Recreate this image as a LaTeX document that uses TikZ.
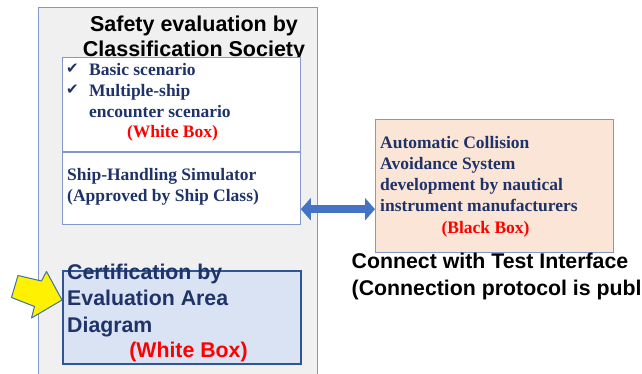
\documentclass[tikz,border=0pt]{standalone}
\usepackage{fontspec}
\setmainfont{Liberation Serif}
\newfontfamily\headfont{Liberation Sans}
\newfontfamily\symfont{DejaVu Sans}
\usetikzlibrary{arrows.meta, positioning, calc}
\definecolor{panelgray}{HTML}{F0F0F0}
\definecolor{paneledge}{HTML}{8497C8}
\definecolor{navy}{HTML}{1F3368}
\definecolor{certfill}{HTML}{DAE3F3}
\definecolor{certedge}{HTML}{2F5597}
\definecolor{acasfill}{HTML}{FBE5D6}
\definecolor{linkblue}{HTML}{4472C4}
\definecolor{pointeredge}{HTML}{41719C}

\begin{document}
\begin{tikzpicture}[
    x=1pt, y=-1pt,
    box/.style={rectangle, draw=paneledge, line width=0.8pt, inner sep=0pt, anchor=north west},
    sanshead/.style={font=\headfont\bfseries\fontsize{21.3}{26.5}\selectfont, align=left, inner sep=0pt},
    serifbody/.style={font=\bfseries\fontsize{17.5}{21}\selectfont, text=navy, align=left, inner sep=0pt},
    boxlabel/.style={font=\bfseries\fontsize{17.5}{21}\selectfont, text=red, inner sep=0pt, anchor=base},
    tick/.style={font=\symfont\fontsize{15}{15}\selectfont, text=navy, inner sep=0pt, anchor=base west},
    link/.style={line width=8pt, linkblue, {Triangle[width=22pt,length=10pt]}-{Triangle[width=22pt,length=10pt]}},
    pointer/.style={fill=yellow, draw=pointeredge, line width=1pt, line join=round},
]
  \useasboundingbox (0,0) rectangle (642,374);
  \clip (0,0) rectangle (642,374);

  % class society panel
  \node[box, fill=panelgray, minimum width=279pt, minimum height=380pt] (panel) at (38,7) {};
  \node[sanshead, font=\headfont\bfseries\fontsize{21.5}{25}\selectfont, align=center, anchor=north] (title) at (194,15.5) {Safety evaluation by\\Classification Society};

  % scenario / simulator boxes
  \node[box, fill=white, minimum width=238pt, minimum height=94pt] (scen) at (62,57) {};
  \node[box, fill=white, minimum width=238pt, minimum height=72pt] (sim) at (scen.south west) {};

  \node[tick] (tick1) at (66,74) {✔};
  \node[tick] (tick2) at (66,95) {✔};
  \node[serifbody, anchor=north west] (scenlist) at (89,63.5) {Basic scenario\\Multiple-ship\\encounter scenario};
  \node[boxlabel] (scenlabel) at (172.5,137.5) {(White Box)};
  \node[serifbody, anchor=north west] (simtext) at (67,168) {Ship-Handling Simulator\\(Approved by Ship Class)};

  % certification box
  \node[box, draw=certedge, line width=1.8pt, fill=certfill, minimum width=238pt, minimum height=93pt] (cert) at (62,270) {};
  \node[sanshead, text=navy, anchor=north west] (certtext) at (67,263.5) {Certification by\\Evaluation Area\\Diagram};
  \node[sanshead, text=red, anchor=base] (certlabel) at (188.5,357) {(White Box)};

  % yellow pointer
  \draw[pointer] (18,275.5) -- (41.5,281) -- (46.5,271.5) -- (62,300)
    -- (31.5,318) -- (34.5,306.5) -- (11.5,297.5) -- cycle;

  % collision avoidance box
  \node[box, fill=acasfill, minimum width=238pt, minimum height=133pt] (acas) at (375,119) {};
  \node[serifbody, anchor=north west] (acastext) at (380,136.5) {Automatic Collision\\Avoidance System\\development by nautical\\instrument manufacturers};
  \node[boxlabel] (acaslabel) at (485.5,233) {(Black Box)};

  \draw[link] ([yshift=-21pt]sim.east) -- ([yshift=-21pt]sim.east -| acas.west);

  \node[sanshead, anchor=north west] (iface) at (351.5,253) {Connect with Test Interface\\(Connection protocol is public)};
\end{tikzpicture}
\end{document}
